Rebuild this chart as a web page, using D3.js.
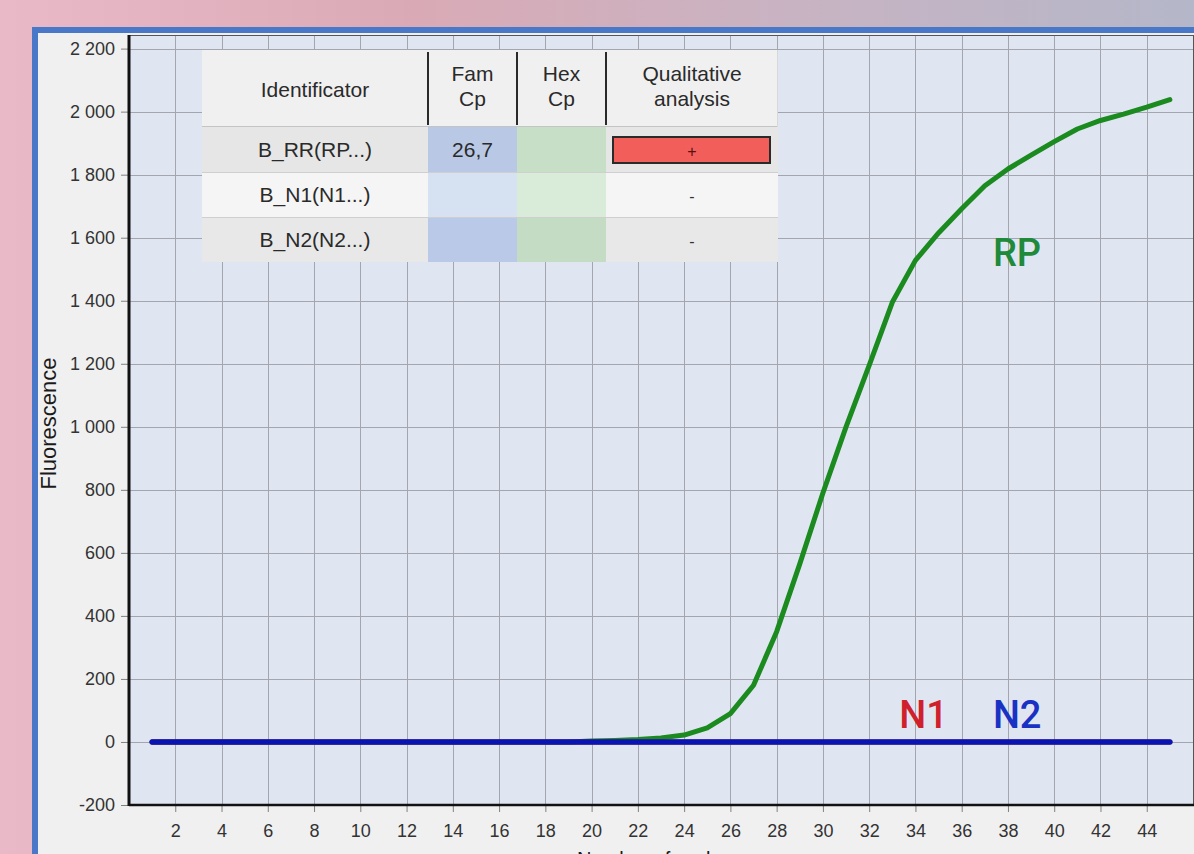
<!DOCTYPE html>
<html>
<head>
<meta charset="utf-8">
<script src="https://cdn.jsdelivr.net/npm/d3@7"></script>
<style>
  body { margin: 0; overflow: hidden; }
  svg { display: block; }
  text { font-family: "Liberation Sans", Arial, sans-serif; }
</style>
</head>
<body>
<div id="chart"></div>
<script>
// Cycle numbers
const cycles = [1, 2, 3, 4, 5, 6, 7, 8, 9, 10, 11, 12, 13, 14, 15, 16, 17, 18, 19, 20,
  21, 22, 23, 24, 25, 26, 27, 28, 29, 30, 31, 32, 33, 34, 35, 36, 37, 38, 39, 40,
  41, 42, 43, 44, 45];

// Fluorescence
const rpValues = [0, 0, 0, 0, 0, 0, 0, 0, 0, 0, 0, 0, 0, 0, 0, 0, 0, 0, 0, 3,
  5, 8, 13, 22, 45, 90, 180, 350, 565, 790, 1000, 1195, 1395, 1528, 1615, 1692, 1765, 1818, 1862, 1905,
  1945, 1972, 1992, 2014, 2038];
const n1Values = [0, 0, 0, 0, 0, 0, 0, 0, 0, 0, 0, 0, 0, 0, 0, 0, 0, 0, 0, 0,
  0, 0, 0, 0, 0, 0, 0, 0, 0, 0, 0, 0, 0, 0, 0, 0, 0, 0, 0, 0,
  0, 0, 0, 0, 0];
const n2Values = [0, 0, 0, 0, 0, 0, 0, 0, 0, 0, 0, 0, 0, 0, 0, 0, 0, 0, 0, 0,
  0, 0, 0, 0, 0, 0, 0, 0, 0, 0, 0, 0, 0, 0, 0, 0, 0, 0, 0, 0,
  0, 0, 0, 0, 0];

// Axis ticks
const xTicks = [2, 4, 6, 8, 10, 12, 14, 16, 18, 20, 22, 24, 26, 28, 30, 32, 34, 36, 38, 40, 42, 44];
const yTicks = [-200, 0, 200, 400, 600, 800, 1000, 1200, 1400, 1600, 1800, 2000, 2200];

// Result table
const tableHeaders = [["Identificator"], ["Fam", "Cp"], ["Hex", "Cp"], ["Qualitative", "analysis"]];
const tableIds = ["B_RR(RP...)", "B_N1(N1...)", "B_N2(N2...)"];
const tableFamCp = ["26,7", "", ""];
const tableHexCp = ["", "", ""];
const tableResult = ["+", "-", "-"];

// Curve names shown on the plot
const seriesNames = ["RP", "N1", "N2"];

const width = 1194, height = 854;
const plot = { left: 129, right: 1193, top: 36, bottom: 805 };

const svg = d3.select("#chart")
  .append("svg")
    .attr("width", width)
    .attr("height", height);

/*  Background and window panel  */
const defs = svg.append("defs");
const bg = defs.append("linearGradient").attr("id", "bg").attr("x1", 0).attr("x2", 1).attr("y1", 0).attr("y2", 0);
bg.append("stop").attr("offset", "0%").attr("stop-color", "#eab9c8");
bg.append("stop").attr("offset", "35%").attr("stop-color", "#d9aab6");
bg.append("stop").attr("offset", "65%").attr("stop-color", "#c9b3c2");
bg.append("stop").attr("offset", "100%").attr("stop-color", "#b4b7c9");
svg.append("rect").attr("width", width).attr("height", height).attr("fill", "url(#bg)");

svg.append("rect")
  .attr("x", 35).attr("y", 30)
  .attr("width", 1200).attr("height", 900)
  .attr("fill", "#f0f0f0")
  .attr("stroke", "#4a78c9")
  .attr("stroke-width", 6);

/*  Scales  */
const xScale = d3.scaleLinear().domain([0, 46]).range([plot.left, plot.right]);
const yScale = d3.scaleLinear().domain([-200, 2240]).range([plot.bottom, plot.top]);

const locale = d3.formatLocale({ decimal: ",", thousands: " ", grouping: [3], currency: ["", ""], minus: "-" });
const yFormat = locale.format(",d");

// Plot background
svg.append("rect")
  .attr("x", plot.left).attr("y", plot.top)
  .attr("width", plot.right - plot.left).attr("height", plot.bottom - plot.top)
  .attr("fill", "#dfe6f2");

/*  Grid  */
const grid = svg.append("g").attr("stroke", "#a3a6ae").attr("stroke-width", 1);
grid.selectAll(".vgrid")
  .data(xTicks)
  .join("line")
    .attr("x1", d => Math.round(xScale(d)) + 0.5)
    .attr("x2", d => Math.round(xScale(d)) + 0.5)
    .attr("y1", plot.top)
    .attr("y2", plot.bottom);
grid.selectAll(".hgrid")
  .data(yTicks)
  .join("line")
    .attr("x1", plot.left)
    .attr("x2", plot.right)
    .attr("y1", d => Math.round(yScale(d)) + 0.5)
    .attr("y2", d => Math.round(yScale(d)) + 0.5);

/*  Axes  */
const bottomAxis = d3.axisBottom(xScale).tickValues(xTicks).tickSize(7).tickPadding(12);
const axisX = svg.append("g")
  .attr("transform", `translate(0, ${plot.bottom})`)
  .call(bottomAxis);
axisX.select(".domain").remove();
axisX.selectAll("line").attr("stroke", "#808080");
axisX.selectAll("text").attr("font-size", 18).attr("fill", "#333")
  .style("font-family", "Liberation Sans, Arial, sans-serif");

const leftAxis = d3.axisLeft(yScale).tickValues(yTicks).tickFormat(yFormat).tickSize(7).tickPadding(6);
const axisY = svg.append("g")
  .attr("transform", `translate(${plot.left - 1}, 0)`)
  .call(leftAxis);
axisY.select(".domain").remove();
axisY.selectAll("line").attr("stroke", "#808080");
axisY.selectAll("text").attr("font-size", 18).attr("fill", "#333")
  .style("font-family", "Liberation Sans, Arial, sans-serif");

// Frame of the plot
svg.append("line").attr("x1", plot.left).attr("x2", plot.right + 1)
  .attr("y1", plot.top - 0.5).attr("y2", plot.top - 0.5).attr("stroke", "#555").attr("stroke-width", 1);
svg.append("line").attr("x1", plot.right + 0.5).attr("x2", plot.right + 0.5)
  .attr("y1", plot.top).attr("y2", plot.bottom).attr("stroke", "#555").attr("stroke-width", 1);
svg.append("line").attr("x1", plot.left).attr("x2", plot.right + 1)
  .attr("y1", plot.bottom).attr("y2", plot.bottom).attr("stroke", "#111").attr("stroke-width", 2.5);
svg.append("line").attr("x1", plot.left).attr("x2", plot.left)
  .attr("y1", plot.top - 1).attr("y2", plot.bottom + 1).attr("stroke", "#111").attr("stroke-width", 3);

// Axis titles
svg.append("text")
  .attr("transform", `translate(56, ${(plot.top + plot.bottom) / 2 + 3}) rotate(-90)`)
  .attr("text-anchor", "middle")
  .attr("font-size", 22)
  .attr("fill", "#1a1a1a")
  .text("Fluorescence");
svg.append("text")
  .attr("x", 577).attr("y", 866)
  .attr("font-size", 20)
  .attr("fill", "#1a1a1a")
  .text("Number of cycles");

/*  Curves  */
const line = d3.line()
  .x((d, i) => xScale(cycles[i]))
  .y(d => yScale(d));

svg.append("path").datum(rpValues)
  .attr("d", line).attr("fill", "none")
  .attr("stroke", "#1b8a1f").attr("stroke-width", 5)
  .attr("stroke-linejoin", "round").attr("stroke-linecap", "round");
svg.append("path").datum(n1Values)
  .attr("d", line).attr("fill", "none")
  .attr("stroke", "#c81e28").attr("stroke-width", 5)
  .attr("stroke-linecap", "round");
svg.append("path").datum(n2Values)
  .attr("d", line).attr("fill", "none")
  .attr("stroke", "#0a14b0").attr("stroke-width", 5.5)
  .attr("stroke-linecap", "round");

// Curve labels
const labelPos = [[37.35, 1510], [33.3, 45], [37.35, 45]];
const labelColors = ["#1f8a3a", "#d0202c", "#1a32c4"];
svg.selectAll(".series-label")
  .data(seriesNames)
  .join("text")
    .attr("x", (d, i) => xScale(labelPos[i][0]))
    .attr("y", (d, i) => yScale(labelPos[i][1]))
    .attr("fill", (d, i) => labelColors[i])
    .attr("font-size", 38)
    .attr("font-weight", 500)
    .style("font-family", "Roboto, sans-serif")
    .text(d => d);

/*  Result table  */
const table = { x: 202, y: 50, headH: 77, rowH: 45, cols: [226, 89, 89, 172] };
const colX = [table.x];
table.cols.forEach((w, i) => colX.push(colX[i] + w));
const tg = svg.append("g");

// Header
tg.append("rect")
  .attr("x", table.x).attr("y", table.y)
  .attr("width", colX[4] - table.x).attr("height", table.headH)
  .attr("fill", "#f0f0f0");
tg.append("line").attr("x1", table.x).attr("x2", colX[4])
  .attr("y1", table.y + table.headH - 0.5).attr("y2", table.y + table.headH - 0.5)
  .attr("stroke", "#c4c4c4");
[1, 2, 3].forEach(i => {
  tg.append("line")
    .attr("x1", colX[i]).attr("x2", colX[i])
    .attr("y1", table.y + 2).attr("y2", table.y + table.headH - 2)
    .attr("stroke", "#2a2a2a").attr("stroke-width", 2);
});
tg.append("line").attr("x1", colX[4] - 0.5).attr("x2", colX[4] - 0.5)
  .attr("y1", table.y).attr("y2", table.y + table.headH).attr("stroke", "#d8d8d8");
tableHeaders.forEach((lines, i) => {
  const cx = (colX[i] + colX[i + 1]) / 2;
  const t = tg.append("text")
    .attr("x", cx)
    .attr("text-anchor", "middle")
    .attr("font-size", 21)
    .attr("fill", "#2a2a2a");
  if (lines.length === 1) {
    t.attr("y", table.y + table.headH / 2 + 8).text(lines[0]);
  } else {
    lines.forEach((l, k) => {
      t.append("tspan").attr("x", cx).attr("y", table.y + 31 + k * 25).text(l);
    });
  }
});

// Rows
const rowFill = ["#e6e6e6", "#f5f5f5", "#e8e8e8"];
const famFill = ["#b9c9e5", "#d6e1f1", "#b9c9e7"];
const hexFill = ["#c6dfc6", "#d9ebd9", "#c3dcc3"];
tableIds.forEach((id, r) => {
  const y0 = table.y + table.headH + r * table.rowH;
  tg.append("rect").attr("x", colX[0]).attr("y", y0).attr("width", colX[4] - colX[0]).attr("height", table.rowH).attr("fill", rowFill[r]);
  tg.append("rect").attr("x", colX[1]).attr("y", y0).attr("width", table.cols[1]).attr("height", table.rowH).attr("fill", famFill[r]);
  tg.append("rect").attr("x", colX[2]).attr("y", y0).attr("width", table.cols[2]).attr("height", table.rowH).attr("fill", hexFill[r]);
  if (r > 0) {
    tg.append("line").attr("x1", colX[0]).attr("x2", colX[4])
      .attr("y1", y0 + 0.5).attr("y2", y0 + 0.5).attr("stroke", "#cfcfcf");
  }
  const positive = tableResult[r] === "+";
  if (positive) {
    tg.append("rect")
      .attr("x", colX[3] + 7).attr("y", y0 + 10)
      .attr("width", table.cols[3] - 15).attr("height", table.rowH - 19)
      .attr("fill", "#f25e5a").attr("stroke", "#2a2a2a").attr("stroke-width", 2);
  }
  const ty = y0 + table.rowH / 2 + 7;
  tg.append("text").attr("x", (colX[0] + colX[1]) / 2).attr("y", ty)
    .attr("text-anchor", "middle").attr("font-size", 21).attr("fill", "#2a2a2a").text(id);
  tg.append("text").attr("x", (colX[1] + colX[2]) / 2).attr("y", ty)
    .attr("text-anchor", "middle").attr("font-size", 21).attr("fill", "#2a2a2a").text(tableFamCp[r]);
  tg.append("text").attr("x", (colX[2] + colX[3]) / 2).attr("y", ty)
    .attr("text-anchor", "middle").attr("font-size", 21).attr("fill", "#2a2a2a").text(tableHexCp[r]);
  tg.append("text").attr("x", (colX[3] + colX[4]) / 2).attr("y", ty)
    .attr("text-anchor", "middle").attr("font-size", 16)
    .attr("fill", positive ? "#5a1010" : "#333").text(tableResult[r]);
});
</script>
</body>
</html>
